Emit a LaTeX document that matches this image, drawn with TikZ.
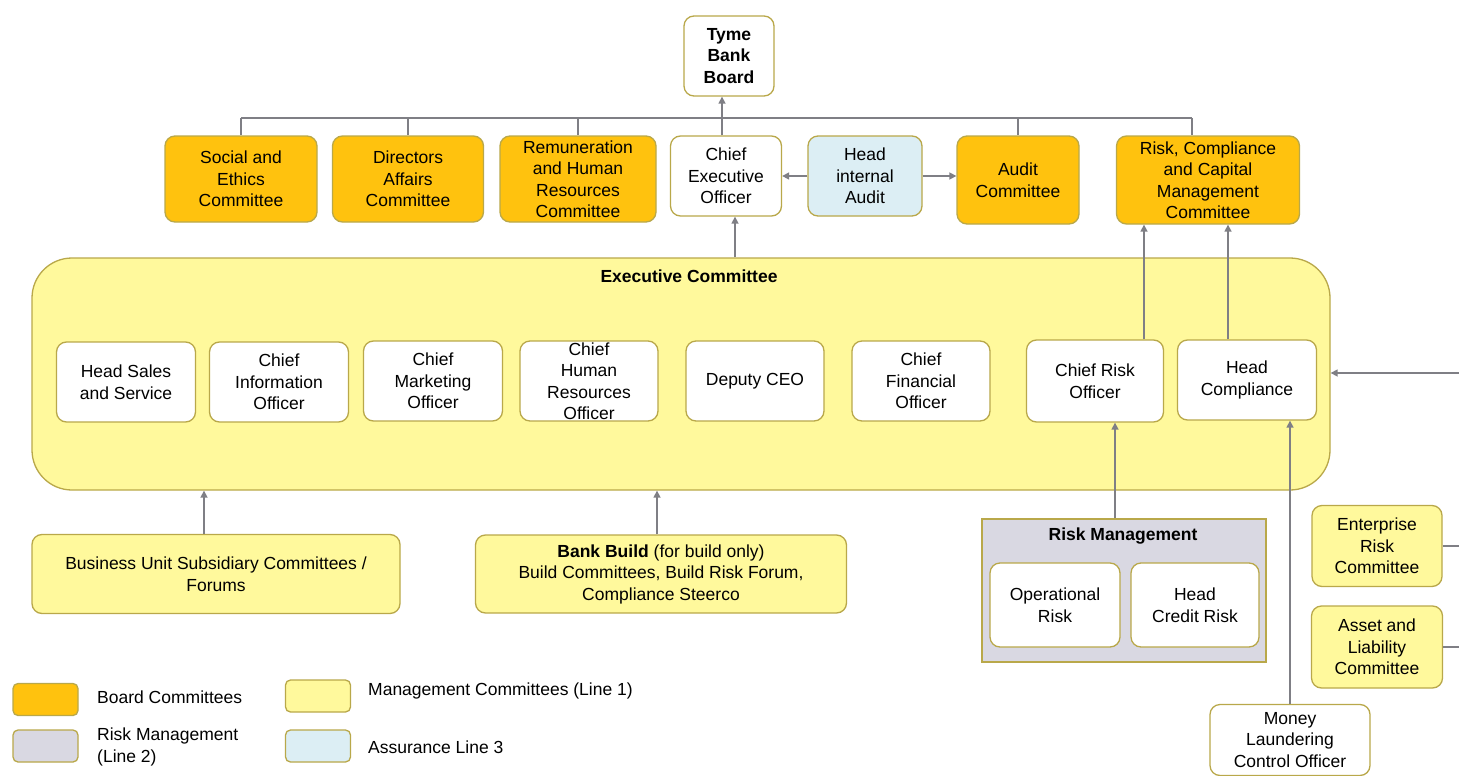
\documentclass[tikz,border=0pt]{standalone}
\usepackage{fontspec}
\setmainfont{Liberation Sans}
\usetikzlibrary{arrows.meta}
\definecolor{boardc}{HTML}{FFC20E}
\definecolor{mgmtc}{HTML}{FFF99C}
\definecolor{riskc}{HTML}{D9D8E2}
\definecolor{assurc}{HTML}{DCEEF4}
\definecolor{bordc}{HTML}{B9A84A}
\definecolor{connc}{HTML}{7F7F85}
\tikzset{
  box/.style={draw=bordc, line width=1.3pt, rounded corners=10pt, align=center, inner sep=0pt,
              font=\fontsize{17.5}{21.5}\selectfont},
  wbox/.style={box, fill=white},
  obox/.style={box, fill=boardc},
  ybox/.style={box, fill=mgmtc},
  bbox/.style={box, fill=assurc},
  swatch/.style={draw=bordc, line width=1.3pt, rounded corners=5pt, minimum width=65pt, minimum height=32pt, inner sep=0pt},
  lbl/.style={font=\fontsize{17.5}{21.5}\selectfont, inner sep=0pt, align=left},
  conn/.style={draw=connc, line width=1.5pt},
  arr/.style={conn, -{Triangle[width=7pt,length=7pt]}},
}
\begin{document}
\begin{tikzpicture}[x=1pt,y=-1pt]
\useasboundingbox[fill=white] (0,0) rectangle (1459,776);

% top
\node[wbox, minimum width=90pt, minimum height=80pt, font=\bfseries\fontsize{17.5}{21.5}\selectfont] (board) at (729,56) {Tyme\\Bank\\Board};
\node[obox, minimum width=152pt, minimum height=86pt] (sec) at (241,179) {Social and\\Ethics\\Committee};
\node[obox, minimum width=151pt, minimum height=86pt] (daf) at (408,179) {Directors\\Affairs\\Committee};
\node[obox, minimum width=156pt, minimum height=86pt] (rem) at (578,179) {Remuneration\\and Human\\Resources\\Committee};
\node[wbox, minimum width=111pt, minimum height=80pt] (ceo) at (726,176) {Chief\\Executive\\Officer};
\node[bbox, minimum width=114pt, minimum height=80pt] (hia) at (865,176) {Head\\internal\\Audit};
\node[obox, minimum width=122pt, minimum height=88pt] (aud) at (1018,180) {Audit\\Committee};
\node[obox, minimum width=183pt, minimum height=88pt] (rcc) at (1208,180) {Risk, Compliance\\and Capital\\Management\\Committee};

% bus
\coordinate (busL) at (241,118);
\coordinate (busR) at (1192,118);
\draw[conn] (busL) -- (busR);
\draw[conn] (busL) -- (sec.north);
\draw[conn] (daf.north |- busL) -- (daf.north);
\draw[conn] (rem.north |- busL) -- (rem.north);
\draw[conn] (aud.north |- busL) -- (aud.north);
\draw[conn] (busR) -- (busR |- rcc.north);
\coordinate (a6) at (722,0);
\draw[arr] (a6 |- ceo.north) -- (a6 |- board.south);
\draw[arr] (hia.west) -- (ceo.east);
\draw[arr] (hia.east) -- (aud.west |- hia.east);

% executive committee
\node[box, fill=mgmtc, rounded corners=40pt, minimum width=1298pt, minimum height=232pt] (exec) at (681,374) {};
\node[font=\bfseries\fontsize{17.5}{21.5}\selectfont, inner sep=0pt] (execlbl) at (689,276) {Executive Committee};
\node[wbox, minimum width=139pt, minimum height=80pt] (hss) at (126,382) {Head Sales\\and Service};
\node[wbox, minimum width=139pt, minimum height=80pt] (cio) at (279,382) {Chief\\Information\\Officer};
\node[wbox, minimum width=139pt, minimum height=80pt] (cmo) at (433,381) {Chief\\Marketing\\Officer};
\node[wbox, minimum width=138pt, minimum height=80pt] (chro) at (589,381) {Chief\\Human\\Resources\\Officer};
\node[wbox, minimum width=138pt, minimum height=80pt] (dceo) at (755,381) {Deputy CEO};
\node[wbox, minimum width=138pt, minimum height=80pt] (cfo) at (921,381) {Chief\\Financial\\Officer};
\node[wbox, minimum width=137pt, minimum height=82pt] (cro) at (1095,381) {Chief Risk\\Officer};
\node[wbox, minimum width=139pt, minimum height=80pt] (hc) at (1247,380) {Head\\Compliance};
\coordinate (a5) at (735,0);
\draw[arr] (a5 |- exec.north) -- (a5 |- ceo.south);
\coordinate (a1) at (1144,0);
\coordinate (a2) at (1228,0);
\draw[arr] (a1 |- cro.north) -- (a1 |- rcc.south);
\draw[arr] (a2 |- hc.north) -- (a2 |- rcc.south);
\coordinate (rin) at (1459,373);
\draw[arr] (rin) -- (rin -| exec.east);

% risk management
\node[draw=bordc, line width=1.3pt, fill=riskc, minimum width=284pt, minimum height=143pt, inner sep=0pt] (rm) at (1124,590.5) {};
\node[font=\bfseries\fontsize{17.5}{21.5}\selectfont, inner sep=0pt] (rmlbl) at (1123,536) {Risk Management};
\node[wbox, minimum width=130pt, minimum height=84pt] (opr) at (1055,605) {Operational\\Risk};
\node[wbox, minimum width=128pt, minimum height=84pt] (hcr) at (1195,605) {Head\\Credit Risk};
\coordinate (a3) at (1115,0);
\draw[arr] (a3 |- rm.north) -- (a3 |- cro.south);

\node[wbox, minimum width=160pt, minimum height=71pt] (mlco) at (1290,740) {Money\\Laundering\\Control Officer};
\draw[arr] (mlco.north) -- (mlco.north |- hc.south);

\node[ybox, minimum width=130pt, minimum height=81pt] (erc) at (1377,546) {Enterprise\\Risk\\Committee};
\node[ybox, minimum width=131pt, minimum height=82pt] (alc) at (1377,647) {Asset and\\Liability\\Committee};
\coordinate (ercout) at (1459,546);
\coordinate (alcout) at (1459,647);
\draw[conn] (erc.east) -- (ercout);
\draw[conn] (alc.east) -- (alcout);

% bottom committees
\node[ybox, minimum width=368pt, minimum height=79pt] (buc) at (216,574) {Business Unit Subsidiary Committees /\\Forums};
\node[ybox, minimum width=371pt, minimum height=78pt] (bb) at (661,574) {\textbf{Bank Build} (for build only)\\Build Committees, Build Risk Forum,\\Compliance Steerco};
\coordinate (a4) at (204,0);
\draw[arr] (a4 |- buc.north) -- (a4 |- exec.south);
\coordinate (a7) at (657,0);
\draw[arr] (a7 |- bb.north) -- (a7 |- exec.south);

% legend
\node[swatch, fill=boardc] (sw1) at (45.5,699.5) {};
\node[lbl, anchor=west] (l1) at (97,697) {Board Committees};
\node[swatch, fill=riskc] (sw2) at (45.5,746) {};
\node[lbl, anchor=west] (l2) at (97,747) {Risk Management\\(Line 2)};
\node[swatch, fill=mgmtc] (sw3) at (318,696) {};
\node[lbl, anchor=west] (l3) at (368,691) {Management Committees (Line 1)};
\node[swatch, fill=assurc] (sw4) at (318,746) {};
\node[lbl, anchor=west] (l4) at (368,747) {Assurance Line 3};
\end{tikzpicture}
\end{document}
